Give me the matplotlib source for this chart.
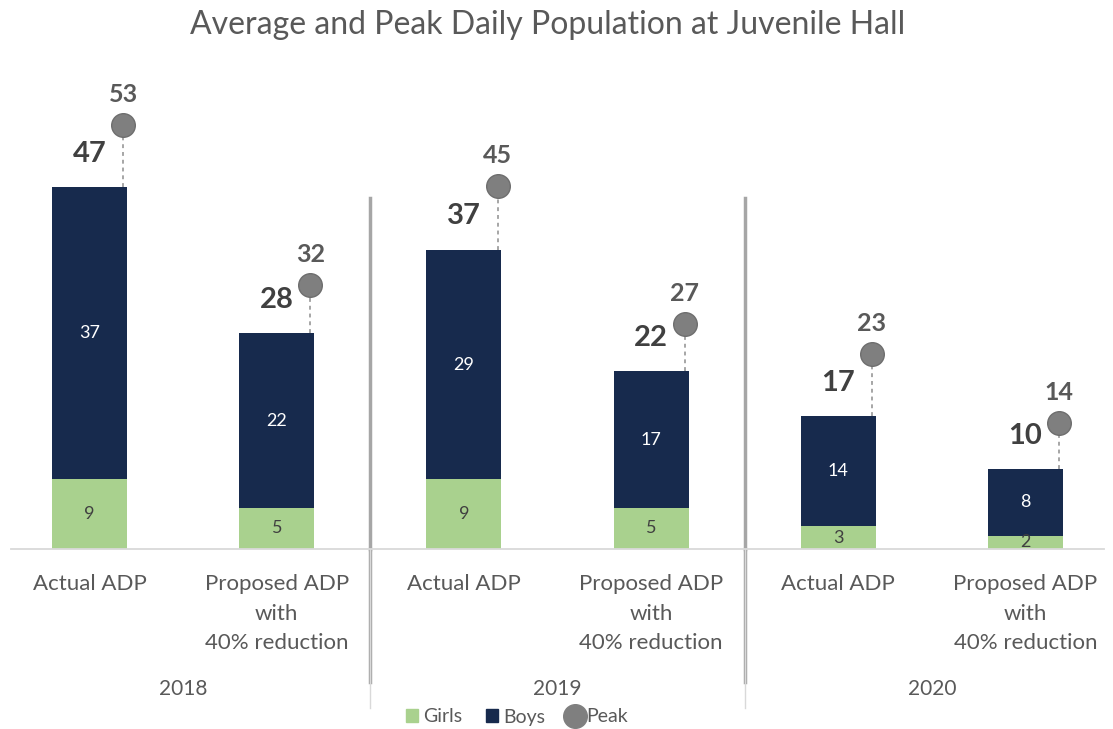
import numpy as np
import matplotlib.pyplot as plt
from matplotlib.lines import Line2D
from matplotlib.patches import Patch

# ---- data (bar heights; labels show rounded values) ----
categories = ["Actual ADP", "Proposed ADP\nwith\n40% reduction"] * 3
years = ["2018", "2019", "2020"]
girls = [8.8, 5.2, 8.8, 5.2, 2.9, 1.7]
boys = [37.0, 22.1, 29.1, 17.3, 13.9, 8.4]
totals = [47, 28, 37, 22, 17, 10]
peaks = [53, 32, 45, 27, 23, 14]

# ---- style ----
green = "#A9D18E"
navy = "#172A4D"
peak_gray = "#7F7F7F"
text_gray = "#595959"
dark_text = "#404040"
plt.rcParams["font.family"] = ["Lato", "DejaVu Sans"]

fig = plt.figure(figsize=(11.13, 7.29), dpi=100)
ax = fig.add_axes([11 / 1113, 1 - 549 / 729, 1093 / 1113, 489 / 729])
ax2 = ax.twinx()  # peak series sits on its own (hidden) secondary axis

x = np.arange(len(categories))
w = 0.40
ax.bar(x, girls, w, color=green, zorder=2)
ax.bar(x, boys, w, bottom=girls, color=navy, zorder=2)

ylim1 = (0, 61.9)
ylim2 = (-2.5, 61.5)
ax.set_ylim(*ylim1)
ax2.set_ylim(*ylim2)


def to_secondary(v):
    frac = (v - ylim1[0]) / (ylim1[1] - ylim1[0])
    return ylim2[0] + frac * (ylim2[1] - ylim2[0])


bar_tops = np.array(girls) + np.array(boys)

# peak markers at right edge of bars with dotted leader
px = x + 0.18
for i in range(len(x)):
    ax2.plot([px[i], px[i]], [to_secondary(bar_tops[i]), peaks[i]], ls=(0, (2, 2)),
             color="#A6A6A6", lw=1.4, zorder=3)
ax2.plot(px, peaks, "o", ms=17, color=peak_gray, mec="#6E6E6E", mew=1, zorder=4)

# labels
for i in range(len(x)):
    ax.text(x[i], girls[i] / 2, f"{girls[i]:.0f}", ha="center", va="center",
            color=dark_text, fontsize=13)
    ax.text(x[i], girls[i] + boys[i] / 2, f"{boys[i]:.0f}", ha="center", va="center",
            color="white", fontsize=13)
    ax.annotate(str(totals[i]), (x[i], bar_tops[i]), xytext=(0, 24), textcoords="offset points",
                ha="center", va="center", fontsize=21, fontweight="bold", color=dark_text)
    ax2.annotate(str(peaks[i]), (px[i], peaks[i]), xytext=(0, 22), textcoords="offset points",
                 ha="center", va="center", fontsize=18, fontweight="bold", color=text_gray)
    ax.annotate(categories[i], (x[i], 0), xycoords=("data", "axes fraction"),
                xytext=(0, -18), textcoords="offset points", ha="center", va="top",
                fontsize=16, color=text_gray, linespacing=1.6)

for j, yr in enumerate(years):
    ax.annotate(yr, (2 * j + 0.5, 0), xycoords=("data", "axes fraction"),
                xytext=(0, -101), textcoords="offset points", ha="center", va="center",
                fontsize=15, color=text_gray)

# group separators
for sep in [1.5, 3.5]:
    ax.plot([sep, sep], [0, (549 - 198) / 489], transform=ax.get_xaxis_transform(),
            color="#A6A6A6", lw=2.5, clip_on=False, zorder=1)
    ax.plot([sep, sep], [0, -(682 - 549) / 489], transform=ax.get_xaxis_transform(),
            color="#A6A6A6", lw=2.5, clip_on=False, zorder=1)
    ax.plot([sep, sep], [0, -(708 - 549) / 489], transform=ax.get_xaxis_transform(),
            color="#D9D9D9", lw=1, clip_on=False, zorder=1)

ax.set_xlim(-0.42, 5.42)
for a in (ax, ax2):
    a.set_xticks([])
    a.set_yticks([])
    for s in ["top", "right", "left", "bottom"]:
        a.spines[s].set_visible(False)
ax.spines["bottom"].set_visible(True)
ax.spines["bottom"].set_color("#D9D9D9")
ax.spines["bottom"].set_linewidth(1.3)

fig.text(548 / 1113, 1 - 25 / 729, "Average and Peak Daily Population at Juvenile Hall",
         ha="center", va="center", fontsize=23, color=text_gray)

handles = [Patch(color=green, label="Girls"), Patch(color=navy, label="Boys"),
           Line2D([], [], marker="o", ls="none", ms=17, color=peak_gray, label="Peak")]
fig.legend(handles=handles, loc="center", bbox_to_anchor=(517 / 1113, 1 - 717 / 729),
           ncol=3, frameon=False, fontsize=14, labelcolor=text_gray,
           handlelength=0.6, handleheight=0.6, handletextpad=0.3, columnspacing=1.2)

fig.savefig("out.png", dpi=100)
